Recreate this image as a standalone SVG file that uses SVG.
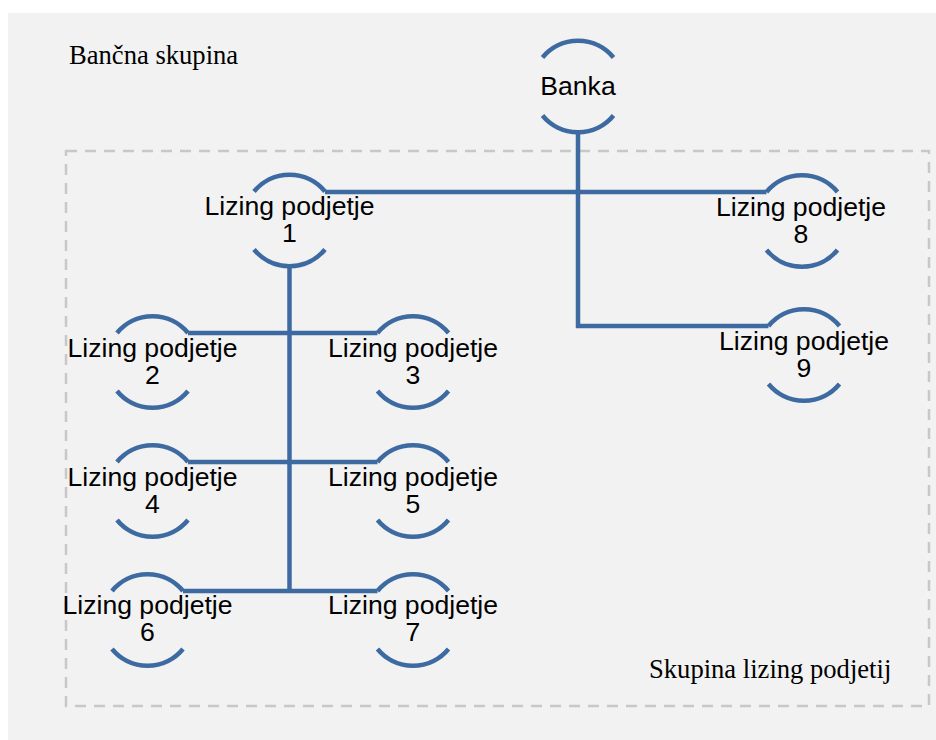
<svg xmlns="http://www.w3.org/2000/svg" width="936" height="740" viewBox="0 0 936 740">
<style>
.arc{fill:none;stroke:#3e6aa2;stroke-width:4.5}
.con{fill:none;stroke:#3e6aa2;stroke-width:4.5}
.lbl{font-family:"Liberation Sans",Arial,sans-serif;font-size:26.6px;fill:#000;text-anchor:middle}
.grp{font-family:"Liberation Serif","Times New Roman",serif;font-size:26.6px;fill:#000}
</style>
<defs>
<g id="ring">
<path class="arc" d="M-35.5,-29 A46,46 0 0 1 35.5,-29"/>
<path class="arc" d="M-35.5,29 A46,46 0 0 0 35.5,29"/>
</g>
</defs>
<rect x="8" y="13" width="928" height="727" fill="#f2f2f2"/>
<rect x="66" y="151" width="863" height="555" fill="none" stroke="#c8c8c8" stroke-width="2.5" stroke-dasharray="11 8"/>
<text class="grp" x="69" y="64">Bančna skupina</text>
<text class="grp" x="649" y="678">Skupina lizing podjetij</text>
<g id="connectors">
<polyline class="con" points="578,131 578,326 768.5,326"/>
<line class="con" x1="325" y1="192" x2="766.5" y2="192"/>
<line class="con" x1="289.5" y1="267" x2="289.5" y2="591"/>
<line class="con" x1="188" y1="333" x2="377.5" y2="333"/>
<line class="con" x1="188" y1="462" x2="377.5" y2="462"/>
<line class="con" x1="183" y1="591" x2="377.5" y2="591"/>
</g>
<g id="banka"><use href="#ring" x="578" y="86.5"/><text class="lbl" x="578" y="95">Banka</text></g>
<g id="lizing1"><use href="#ring" x="289.5" y="220.5"/><text class="lbl" x="289.5" y="215">Lizing podjetje</text><text class="lbl" x="289.5" y="242">1</text></g>
<g id="lizing8"><use href="#ring" x="802" y="221"/><text class="lbl" x="801" y="216">Lizing podjetje</text><text class="lbl" x="801" y="243">8</text></g>
<g id="lizing9"><use href="#ring" x="804" y="355"/><text class="lbl" x="804" y="350">Lizing podjetje</text><text class="lbl" x="804" y="377">9</text></g>
<g id="lizing2"><use href="#ring" x="152.5" y="362"/><text class="lbl" x="152.5" y="357">Lizing podjetje</text><text class="lbl" x="152.5" y="384">2</text></g>
<g id="lizing3"><use href="#ring" x="413" y="362"/><text class="lbl" x="413" y="357">Lizing podjetje</text><text class="lbl" x="413" y="384">3</text></g>
<g id="lizing4"><use href="#ring" x="152.5" y="491"/><text class="lbl" x="152.5" y="486">Lizing podjetje</text><text class="lbl" x="152.5" y="513">4</text></g>
<g id="lizing5"><use href="#ring" x="413" y="491"/><text class="lbl" x="413" y="486">Lizing podjetje</text><text class="lbl" x="413" y="513">5</text></g>
<g id="lizing6"><use href="#ring" x="147.5" y="620"/><text class="lbl" x="147.5" y="614">Lizing podjetje</text><text class="lbl" x="147.5" y="641">6</text></g>
<g id="lizing7"><use href="#ring" x="413" y="620"/><text class="lbl" x="413" y="614">Lizing podjetje</text><text class="lbl" x="413" y="641">7</text></g>
</svg>
